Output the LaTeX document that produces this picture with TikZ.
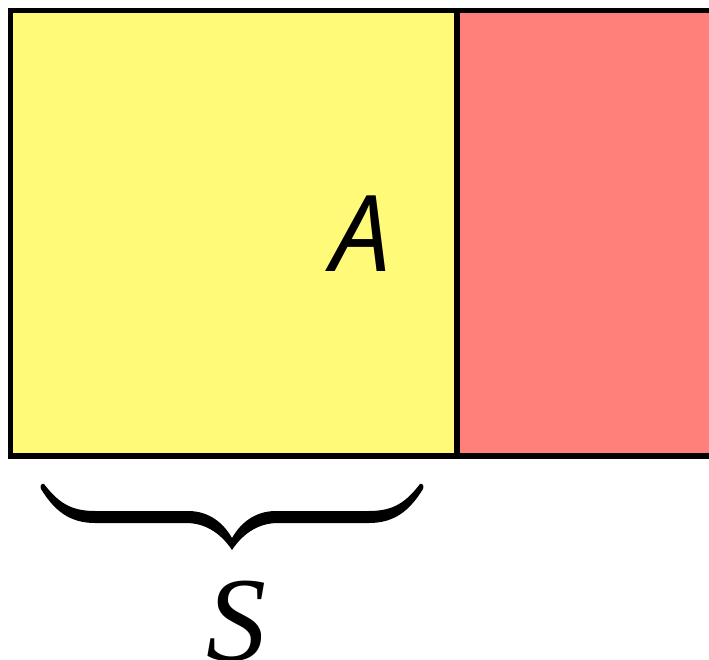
\documentclass[tikz,border=0pt]{standalone}
\usepackage{fontspec}
\newfontfamily\labsans{Open Sans}
\newfontfamily\labserif{Liberation Serif}
\definecolor{yel}{RGB}{255,250,120}
\definecolor{redfill}{RGB}{255,128,122}
\tikzset{
  region/.style={draw=black,line width=5.5pt,line join=miter},
  bracefill/.style={fill=black,draw=none},
  lab/.style={inner sep=0pt,outer sep=0pt}
}
\begin{document}
\begin{tikzpicture}[x=1pt,y=-1pt]
\path[use as bounding box] (0,0) rectangle (709,660);
\clip (0,0) rectangle (709,660);
\fill[white] (0,0) rectangle (709,660);
% red region (extends past right edge)
\path[region,fill=redfill] (457,10.5) rectangle (740,456);
% yellow region
\path[region,fill=yel] (10.5,10.5) rectangle (457,456);
\node[lab,font={\labsans\itshape\fontsize{106}{110}\selectfont}] (A) at (361,234) {A};
% brace
\fill[bracefill]
  (44,484) .. controls (58,502) and (70,511) .. (95,511)
  -- (188,511) .. controls (210,511) and (224,524) .. (232,538)
  .. controls (240,524) and (254,511) .. (276,511)
  -- (369,511) .. controls (394,511) and (406,502) .. (420,484)
  .. controls (423,483) and (424,486) .. (423,489)
  .. controls (410,510) and (395,523) .. (369,523)
  -- (278,523) .. controls (257,523) and (242,535) .. (232,550)
  .. controls (222,535) and (207,523) .. (186,523)
  -- (95,523) .. controls (69,523) and (54,510) .. (41,489)
  .. controls (40,486) and (41,483) .. (44,484) -- cycle;
\coordinate (bracetip) at (232,550);
\node[lab,font={\labserif\itshape\fontsize{120}{124}\selectfont}] (S) at (236,621) {S};
\end{tikzpicture}
\end{document}
